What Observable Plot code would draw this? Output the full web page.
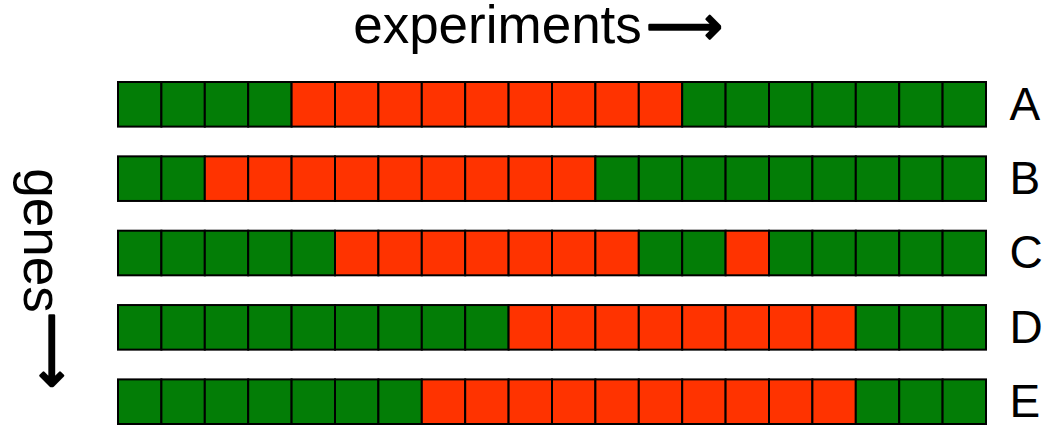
<!DOCTYPE html>
<html>
<head>
<meta charset="utf-8">
<script src="https://cdn.jsdelivr.net/npm/d3@7"></script>
<script src="https://cdn.jsdelivr.net/npm/@observablehq/plot@0.6"></script>
<style>
  html, body { margin: 0; padding: 0; background: #fff; }
</style>
</head>
<body>
<div id="chart"></div>
<script>
// ---- data ----
const genes = ["A", "B", "C", "D", "E"];
const experiments = [1, 2, 3, 4, 5, 6, 7, 8, 9, 10, 11, 12, 13, 14, 15, 16, 17, 18, 19, 20];
// 1 = red (up), 0 = green (down)
const geneA = [0,0,0,0,1,1,1,1,1,1,1,1,1,0,0,0,0,0,0,0];
const geneB = [0,0,1,1,1,1,1,1,1,1,1,0,0,0,0,0,0,0,0,0];
const geneC = [0,0,0,0,0,1,1,1,1,1,1,1,0,0,1,0,0,0,0,0];
const geneD = [0,0,0,0,0,0,0,0,0,1,1,1,1,1,1,1,1,0,0,0];
const geneE = [0,0,0,0,0,0,0,1,1,1,1,1,1,1,1,1,1,0,0,0];
const xTitle = "experiments";
const yTitle = "genes";
const arrowGlyph = "\u27F6";

const rows = [geneA, geneB, geneC, geneD, geneE];
const cells = [];
genes.forEach((g, i) => rows[i].forEach((v, j) => cells.push({gene: g, exp: experiments[j], value: v})));

const font = "'Liberation Sans', Arial, Helvetica, sans-serif";

const chart = Plot.plot({
  width: 1047,
  height: 426,
  marginTop: 82,
  marginBottom: 2,
  marginLeft: 118,
  marginRight: 61,
  style: {fontFamily: font, background: "#fff", color: "#000", overflow: "visible"},
  x: {type: "band", domain: experiments, padding: 0, round: false, axis: null},
  y: {type: "band", domain: genes, paddingInner: 0.4, paddingOuter: 0, round: false, axis: null},
  color: {type: "ordinal", domain: [0, 1], range: ["#037d06", "#ff3300"]},
  marks: [
    Plot.cell(cells, {x: "exp", y: "gene", fill: "value", stroke: "#000", strokeWidth: 2, inset: 0}),
    Plot.axisY({anchor: "right", tickSize: 0, tickPadding: 23, fontSize: 46, label: null}),
    Plot.text([xTitle], {text: d => d, frameAnchor: "top", textAnchor: "middle", lineAnchor: "middle", dx: -55, dy: -56, fontSize: 53, fill: "#000"}),
    Plot.text([arrowGlyph], {text: d => d, frameAnchor: "top", textAnchor: "middle", lineAnchor: "middle", dx: 132, dy: -55, fontSize: 53, fill: "#000", stroke: "#000", strokeWidth: 2.5, fontFamily: "DejaVu Sans"}),
    Plot.text([yTitle], {text: d => d, frameAnchor: "left", textAnchor: "middle", lineAnchor: "middle", rotate: 90, dx: -78, dy: -13, fontSize: 53, fill: "#000"}),
    Plot.text([arrowGlyph], {text: d => d, frameAnchor: "left", textAnchor: "middle", lineAnchor: "middle", rotate: 90, dx: -67, dy: 97, fontSize: 53, fill: "#000", stroke: "#000", strokeWidth: 2.5, fontFamily: "DejaVu Sans"})
  ]
});
document.getElementById("chart").appendChild(chart);
</script>
</body>
</html>
